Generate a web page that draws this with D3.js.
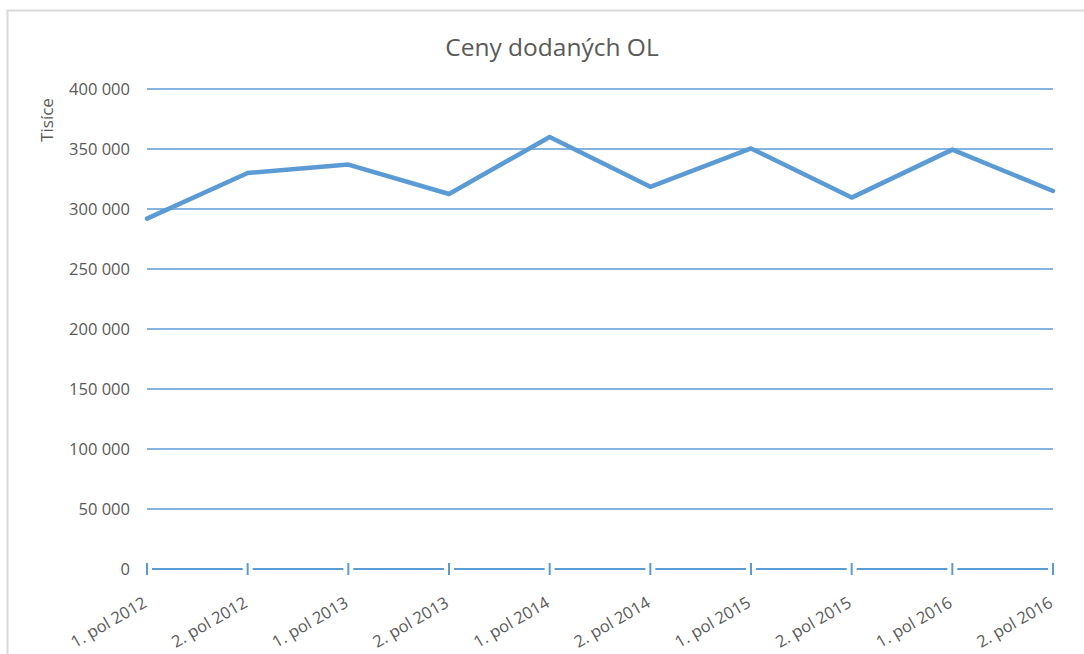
<!DOCTYPE html>
<html>
<head>
<meta charset="utf-8">
<script src="https://cdn.jsdelivr.net/npm/d3@7"></script>
<style>
  body { margin: 0; background: #fff; }
  text { font-family: "Open Sans", Lato, sans-serif; fill: #595959; }
</style>
</head>
<body>
<div class="root"></div>
<script>
var categories = ['1. pol 2012', '2. pol 2012', '1. pol 2013', '2. pol 2013', '1. pol 2014',
                  '2. pol 2014', '1. pol 2015', '2. pol 2015', '1. pol 2016', '2. pol 2016'];
var prices = [292000, 330000, 337000, 312500, 360000, 318500, 350500, 309500, 349500, 315000];
var yTicks = [0, 50000, 100000, 150000, 200000, 250000, 300000, 350000, 400000];

var blue = '#5b9bd5';

function runChart() {
  var w = 1084, h = 654;

  var svg = d3.select('.root').append('svg')
    .attr('width', w)
    .attr('height', h);

  // chart frame
  svg.append('rect')
    .attr('x', 7.5)
    .attr('y', 10.5)
    .attr('width', w + 20)
    .attr('height', h + 20)
    .attr('fill', '#fff')
    .attr('stroke', '#d9d9d9')
    .attr('stroke-width', 2);

  var x = d3.scalePoint()
    .domain(categories)
    .range([147, 1053]);

  var y = d3.scaleLinear()
    .domain([0, 400000])
    .range([569, 89]);

  var fmt = function(v) { return d3.format(',')(v).replace(/,/g, ' '); };

  // gridlines
  svg.append('g')
    .selectAll('line')
    .data(yTicks.filter(function(d) { return d > 0; }))
    .enter().append('line')
      .attr('x1', 147)
      .attr('x2', 1053)
      .attr('y1', function(d) { return y(d); })
      .attr('y2', function(d) { return y(d); })
      .attr('stroke', blue)
      .attr('stroke-width', 1.5);

  // y labels
  svg.append('g')
    .selectAll('text')
    .data(yTicks)
    .enter().append('text')
      .attr('x', 130)
      .attr('y', function(d) { return y(d); })
      .attr('dy', '0.36em')
      .attr('text-anchor', 'end')
      .style('font-size', '16.5px')
      .text(fmt);

  svg.append('text')
    .attr('transform', 'translate(53,120) rotate(-90)')
    .attr('text-anchor', 'middle')
    .style('font-size', '17px')
    .text('Tisíce');

  // bottom axis
  svg.append('line')
    .attr('x1', 147)
    .attr('x2', 1053)
    .attr('y1', y(0))
    .attr('y2', y(0))
    .attr('stroke', blue)
    .attr('stroke-width', 2);

  var ticks = svg.append('g')
    .selectAll('g')
    .data(categories)
    .enter().append('g')
      .attr('transform', function(d) { return 'translate(' + x(d) + ',' + y(0) + ')'; });

  ticks.append('rect')
    .attr('x', -5)
    .attr('y', -3)
    .attr('width', 10)
    .attr('height', 6)
    .attr('fill', '#fff');

  ticks.append('line')
    .attr('y1', -6)
    .attr('y2', 6)
    .attr('stroke', blue)
    .attr('stroke-width', 2);

  ticks.append('text')
    .attr('transform', 'translate(1,37) rotate(-30)')
    .attr('text-anchor', 'end')
    .style('font-size', '16.5px')
    .text(function(d) { return d; });

  // series line
  var line = d3.line()
    .x(function(d, i) { return x(categories[i]); })
    .y(function(d) { return y(d); });

  svg.append('path')
    .datum(prices)
    .attr('d', line)
    .attr('fill', 'none')
    .attr('stroke', blue)
    .attr('stroke-width', 4.5)
    .attr('stroke-linejoin', 'round')
    .attr('stroke-linecap', 'round');

  svg.append('text')
    .attr('x', 552)
    .attr('y', 56)
    .attr('text-anchor', 'middle')
    .style('font-size', '24.5px')
    .text('Ceny dodaných OL');
}

window.onload = function() {
  runChart();
}
</script>
</body>
</html>
